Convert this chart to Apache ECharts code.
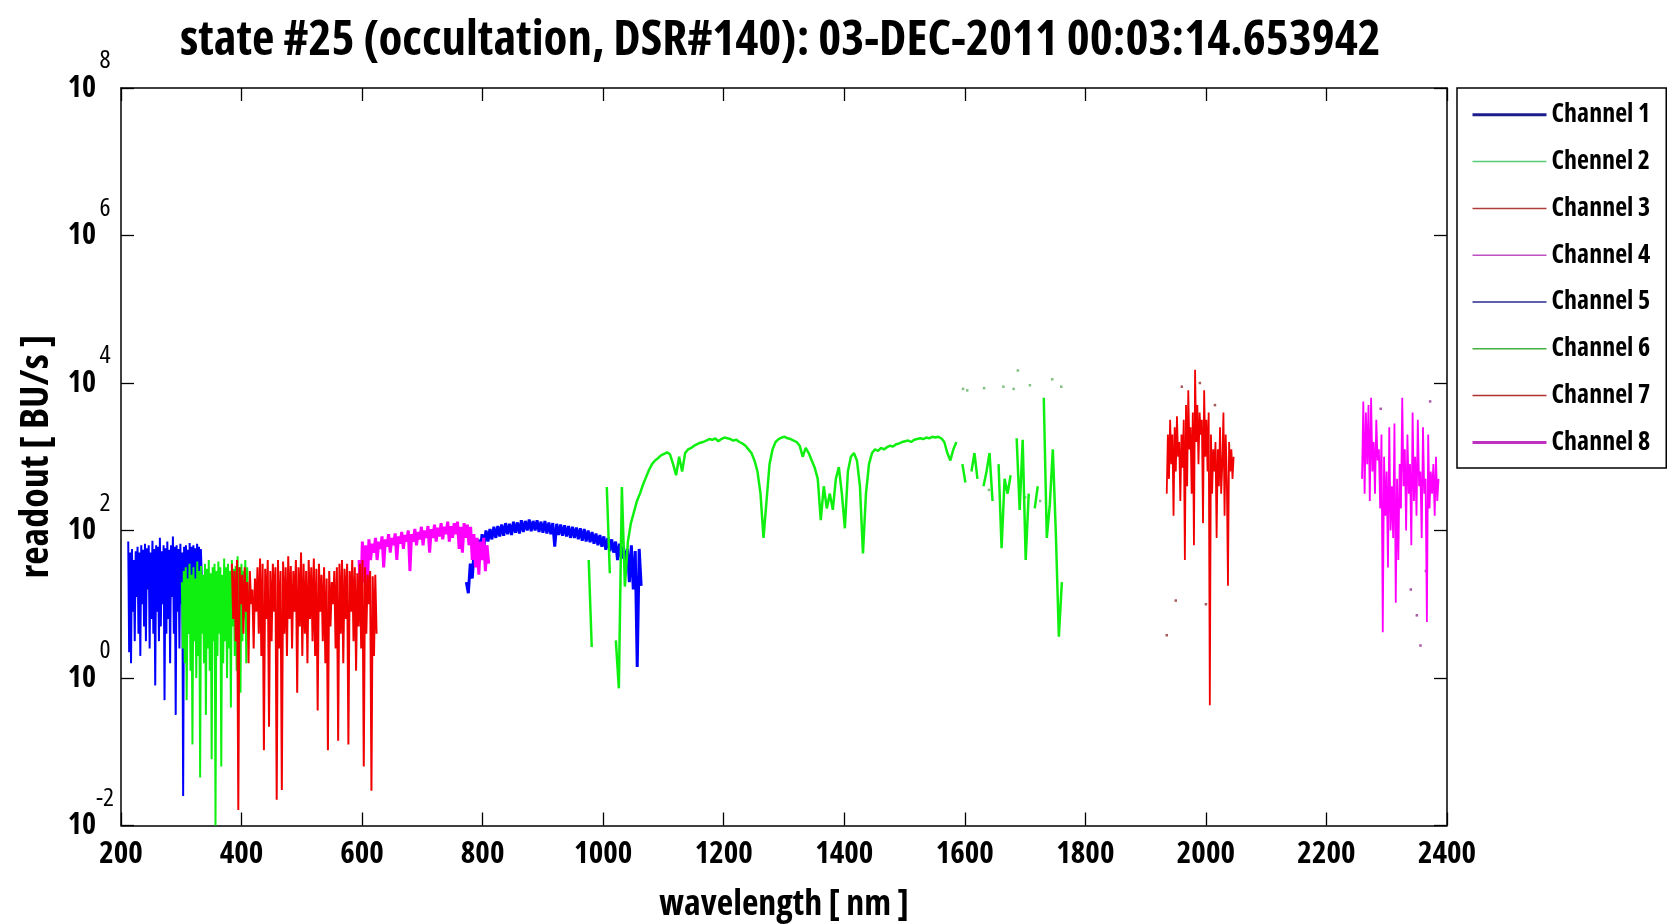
<!DOCTYPE html>
<html>
<head>
<meta charset="utf-8">
<title>state #25 spectrum</title>
<script src="https://cdn.jsdelivr.net/npm/echarts@6.0.0/dist/echarts.min.js"></script>
<style>
  html, body { margin: 0; padding: 0; background: #fff; }
  #chart { width: 1668px; height: 924px; }
</style>
</head>
<body>
<div id="chart"></div>
<script>
// readouts are given as log10(BU/s); null = no data (gap)
var FONT = "'Open Sans', 'Liberation Sans', sans-serif";
var BOLD = 'bold condensed';     // condensed width of Open Sans
var THIN = 'normal condensed';

var channelNames = ['Channel 1', 'Chennel 2', 'Channel 3', 'Channel 4',
                    'Channel 5', 'Channel 6', 'Channel 7', 'Channel 8'];
var plotColors = ['#0000ff', '#10f010', '#f00000', '#ff00ff',
                  '#0000ff', '#10f010', '#f00000', '#ff00ff'];
var legendColors = ['#1c1c8c', '#55cc77', '#b03c3c', '#c050c0',
                    '#2a2a90', '#40b040', '#b03030', '#c030c0'];
var legendWidths = [3, 1.5, 1.5, 1.5, 1.5, 1.5, 1.5, 3];

// wavelength range [start, end] in nm for each channel
var ch1Range = [212, 334];
var ch2Range = [301, 411];
var ch3Range = [384, 624];
var ch4Range = [595, 810];
var ch5Range = [773, 1063];
var ch6Range = [971, 1771];
var ch7Range = [1935, 2046];
var ch8Range = [2259, 2386];

var ch1 = [1.85,0.35,1.7,0.2,1.75,0.9,1.6,0.5,1.72,1.1,
  1.78,0.6,1.7,0.3,1.8,1.0,1.74,0.7,1.82,0.5,
  1.76,1.2,1.8,0.4,1.7,0.8,1.86,0.6,1.75,-0.1,
  1.8,0.9,1.78,0.5,1.9,0.7,1.72,1.0,1.8,-0.3,
  1.76,0.6,1.85,0.8,1.74,0.2,1.8,1.1,1.92,0.6,
  1.78,-0.5,1.8,0.9,1.75,0.4,1.82,1.0,1.7,-1.6,
  1.78,0.8,1.8,1.2,1.74,0.6,1.83,1.0,1.78,0.4,
  1.8,1.2,1.76,0.9,1.82,1.3,1.78,1.0,1.75,1.4];

var ch2 = [1.3,0.4,1.45,0.2,1.5,-0.3,1.35,0.6,1.55,0.1,
  1.4,-0.9,1.5,0.5,1.35,0.0,1.58,0.3,1.45,-1.35,
  1.52,0.6,1.4,0.2,1.55,-0.5,1.48,0.4,1.6,0.1,
  1.42,-1.1,1.5,0.5,1.55,-2.0,1.45,0.3,1.58,0.6,
  1.5,-1.2,1.4,0.2,1.62,0.5,1.5,0.0,1.55,0.4,
  1.45,-0.4,1.6,0.7,1.48,0.3,1.52,0.1,1.65,0.6,
  1.5,-0.2,1.55,0.5,1.45,0.8,1.6,0.2,1.5,0.9];

var ch3 = [1.55,0.8,1.45,0.5,1.6,-1.79,1.5,1.0,1.4,0.6,
  1.5,0.9,1.3,0.2,1.45,1.0,1.2,0.4,1.35,0.9,
  1.5,0.6,1.62,0.3,1.55,-0.98,1.48,0.8,1.6,-0.66,
  1.45,0.5,1.55,0.9,1.5,-1.65,1.6,0.4,1.45,-1.52,
  1.58,0.6,1.5,0.3,1.65,0.8,1.52,0.4,1.45,0.9,
  1.6,-0.2,1.5,0.7,1.7,0.3,1.55,0.6,1.45,0.2,
  1.6,0.8,1.5,0.5,1.62,0.3,1.48,-0.44,1.55,0.9,
  1.4,0.5,1.5,0.2,1.35,-0.98,1.45,0.7,1.3,1.0,
  1.45,0.4,1.5,-0.85,1.55,0.6,1.6,0.2,1.48,0.8,
  1.55,-0.9,1.45,0.9,1.6,0.5,1.5,0.1,1.42,0.7,
  1.55,0.4,1.6,-1.2,1.5,0.6,1.4,1.0,1.45,-1.53,
  1.38,0.3,1.4,0.6];

var ch4 = [1.6,1.0,1.85,1.3,1.8,1.2,1.88,1.6,1.82,1.7,
  1.9,1.6,1.85,1.75,1.92,1.5,1.88,1.78,1.95,1.7,
  1.9,1.8,1.96,1.6,1.92,1.82,1.98,1.75,1.94,1.85,
  2.0,1.45,1.95,1.85,2.02,1.8,1.98,1.88,2.05,1.8,
  2.0,1.9,2.06,1.7,2.02,1.9,2.08,1.85,2.04,1.92,
  2.1,1.88,2.05,1.95,2.12,1.85,2.06,1.9,2.1,1.95,
  2.12,1.75,2.05,1.7,2.1,1.9,2.08,1.8,2.05,1.6,
  1.95,1.5,1.9,1.4,1.85,1.6,1.9,1.45,1.8,1.55];

var ch5 = [1.3,1.15,1.55,1.35,1.75,1.55,1.88,1.7,1.95,1.8,
  2.0,1.85,2.02,1.88,2.05,1.9,2.06,1.92,2.08,1.93,
  2.1,1.95,2.09,1.94,2.12,1.97,2.11,1.96,2.14,1.98,
  2.13,2.0,2.15,1.99,2.13,2.0,2.14,1.98,2.12,1.97,
  2.13,1.96,2.11,1.95,2.1,1.78,2.09,1.94,2.08,1.93,
  2.07,1.92,2.06,1.9,2.05,1.9,2.04,1.88,2.03,1.86,
  2.02,1.85,2.0,1.84,1.98,1.82,1.96,1.8,1.94,1.78,
  1.92,1.74,1.9,1.72,1.88,1.7,1.85,1.6,1.82,1.62,
  1.78,1.55,1.75,1.3,1.8,1.2,1.72,0.15,1.75,1.25];

var ch6 = [null,1.6,0.42,null,null,null,null,2.59,1.42,null,
  0.51,-0.14,2.59,1.24,1.85,2.1,2.25,2.4,2.5,2.62,
  2.72,2.82,2.9,2.95,2.98,3.02,3.04,3.06,3.03,2.9,
  2.75,3.0,2.8,3.05,3.1,3.12,3.15,3.17,3.19,3.2,
  3.22,3.24,3.23,3.25,3.21,3.24,3.26,3.25,3.24,3.22,
  3.23,3.2,3.18,3.15,3.1,3.05,2.95,2.8,2.5,1.9,
  2.4,2.9,3.1,3.2,3.24,3.26,3.27,3.25,3.24,3.22,
  3.2,3.15,3.0,3.12,3.05,2.95,2.85,2.7,2.14,2.6,
  2.3,2.5,2.28,2.7,2.86,2.5,2.03,2.8,3.0,3.05,
  2.95,2.6,1.69,2.5,2.9,3.05,3.1,3.08,3.12,3.1,
  3.13,3.15,3.14,3.17,3.18,3.2,3.21,3.22,3.2,3.23,
  3.24,3.25,3.24,3.26,3.25,3.27,3.26,3.27,3.25,3.2,
  3.05,2.95,3.1,3.2,null,2.9,2.65,null,2.8,3.05,
  2.7,null,2.6,2.8,3.05,2.4,null,2.9,1.76,2.7,
  2.5,2.75,null,3.25,2.28,3.23,1.6,2.5,null,2.3,
  2.6,null,3.8,1.9,2.35,3.1,1.97,0.56,1.3,null,
  null];

var ch7 = [2.5,3.3,2.7,3.5,2.9,3.3,2.2,3.4,2.8,3.55,
  3.0,3.2,2.4,3.3,2.85,3.5,1.6,3.7,2.6,3.9,
  3.1,3.4,2.5,3.6,1.8,4.18,3.2,3.7,2.9,3.6,
  3.3,3.5,2.1,3.9,3.0,3.5,2.8,3.6,-0.37,3.3,
  2.5,3.1,2.8,3.2,1.9,3.1,2.6,3.4,2.5,2.9,
  3.6,2.2,3.3,2.7,1.25,3.2,2.8,3.1,2.7,3.0];

var ch8 = [2.7,3.75,2.5,3.6,2.9,3.7,2.4,3.8,2.8,3.2,
  2.5,3.5,2.95,3.1,2.3,3.3,0.62,3.0,2.2,2.8,
  1.5,3.4,2.0,2.6,1.9,3.45,1.02,2.7,1.6,2.9,
  2.3,3.8,2.6,3.1,2.0,3.3,2.5,2.9,1.8,3.6,
  2.4,3.0,2.2,3.5,2.6,2.8,1.9,3.4,2.5,2.7,
  0.76,3.3,2.3,2.8,2.5,2.9,2.2,3.0,2.4,2.7];

// isolated stray samples [nm, log10 readout]
var ch6Dots = [[1597,3.92],[1604,3.9],[1632,3.93],[1664,3.95],[1681,3.92],[1688,4.17],
  [1708,3.97],[1745,4.05],[1760,3.95],[1640,2.55],[1700,2.45],[1725,2.4]];
var ch7Dots = [[1935,0.58],[1950,1.05],[1960,3.95],[1990,4.0],[2000,1.0],[2015,3.7]];
var ch8Dots = [[2356,0.44],[2350,0.85],[2340,1.2],[2372,3.75],[2290,3.65],[2365,1.45]];

var xTicks = [200, 2400, 200];       // min, max, step
var yTicks = [0.01, 1e8];            // 10^-2 .. 10^8

function toPairs(range, logs) {
    var step = (range[1] - range[0]) / (logs.length - 1);
    return logs.map(function (v, i) {
        return [range[0] + i * step, v === null ? '-' : Math.pow(10, v)];
    });
}

function dotPairs(list) {
    return list.map(function (p) { return [p[0], Math.pow(10, p[1])]; });
}

// drawing order follows the overlaps in the picture
var channels = [
    {data: toPairs(ch1Range, ch1), idx: 0, width: 2},
    {data: toPairs(ch2Range, ch2), idx: 1, width: 2},
    {data: toPairs(ch5Range, ch5), idx: 4, width: 3},
    {data: toPairs(ch4Range, ch4), idx: 3, width: 3},
    {data: toPairs(ch3Range, ch3), idx: 2, width: 2},
    {data: toPairs(ch6Range, ch6), idx: 5, width: 2.5},
    {data: toPairs(ch7Range, ch7), idx: 6, width: 1.8},
    {data: toPairs(ch8Range, ch8), idx: 7, width: 1.8}
];
var dots = [
    {data: dotPairs(ch6Dots), idx: 5, color: '#60b060'},
    {data: dotPairs(ch7Dots), idx: 6, color: '#903030'},
    {data: dotPairs(ch8Dots), idx: 7, color: '#903090'}
];

var myChart = echarts.init(document.getElementById('chart'), null, {renderer: 'canvas'});

var axisLineStyle = {color: '#000', width: 1.5};
var tickStyle = {show: true, inside: true, length: 13, lineStyle: {color: '#000', width: 1.3}};

var lineSeries = channels.map(function (c) {
    return {
        name: channelNames[c.idx],
        type: 'line',
        xAxisIndex: 0,
        yAxisIndex: 0,
        data: c.data,
        symbol: 'none',
        showSymbol: false,
        connectNulls: false,
        clip: true,
        lineStyle: {color: plotColors[c.idx], width: c.width},
        itemStyle: {color: plotColors[c.idx]},
        emphasis: {disabled: true}
    };
});
var dotSeries = dots.map(function (d) {
    return {
        name: channelNames[d.idx],
        type: 'scatter',
        data: d.data,
        symbol: 'rect',
        symbolSize: 2.5,
        itemStyle: {color: d.color},
        emphasis: {disabled: true}
    };
});

var option = {
    backgroundColor: '#fff',
    animation: false,
    title: {
        text: 'state #25 (occultation, DSR#140): 03-DEC-2011 00:03:14.653942',
        left: 180,
        top: 17,
        padding: 0,
        textStyle: {fontFamily: FONT, fontSize: 49, fontWeight: BOLD, color: '#000'}
    },
    legend: {
        orient: 'vertical',
        left: 1457,
        top: 88,
        padding: [13.8, 16, 12.6, 14],
        itemWidth: 74,
        itemHeight: 24,
        itemGap: 20.8,
        borderColor: '#000',
        borderWidth: 1.5,
        backgroundColor: '#fff',
        selectedMode: false,
        itemStyle: {opacity: 0},
        textStyle: {fontFamily: FONT, fontSize: 26, fontWeight: BOLD, color: '#000', lineHeight: 24},
        data: channelNames.map(function (n, i) {
            return {
                name: n,
                itemStyle: {opacity: 0},
                lineStyle: {color: legendColors[i], width: legendWidths[i]}
            };
        })
    },
    grid: {left: 121, right: 221, top: 88, bottom: 98.5, outerBoundsMode: 'none', containLabel: false},
    xAxis: [{
        type: 'value',
        min: xTicks[0], max: xTicks[1], interval: xTicks[2],
        position: 'bottom',
        name: 'wavelength [ nm ]',
        nameLocation: 'middle',
        nameGap: 61,
        nameTextStyle: {fontFamily: FONT, fontSize: 36, fontWeight: BOLD, color: '#000'},
        axisLine: {show: true, lineStyle: axisLineStyle},
        axisTick: tickStyle,
        splitLine: {show: false},
        axisLabel: {
            margin: 13, showMinLabel: true, showMaxLabel: true,
            formatter: function (v) { return String(v); },
            fontFamily: FONT, fontSize: 31, fontWeight: BOLD, color: '#000'
        }
    }, {
        type: 'value',
        min: xTicks[0], max: xTicks[1], interval: xTicks[2],
        position: 'top',
        axisLine: {show: true, lineStyle: axisLineStyle},
        axisTick: tickStyle,
        splitLine: {show: false},
        axisLabel: {show: false}
    }],
    yAxis: [{
        type: 'log',
        logBase: 100,
        min: yTicks[0], max: yTicks[1],
        position: 'left',
        name: 'readout [ BU/s ]',
        nameLocation: 'middle',
        nameGap: 59,
        nameTextStyle: {fontFamily: FONT, fontSize: 40, fontWeight: BOLD, color: '#000'},
        axisLine: {show: true, lineStyle: axisLineStyle},
        axisTick: tickStyle,
        splitLine: {show: false},
        minorTick: {show: false},
        axisLabel: {
            margin: 8,
            showMinLabel: true, showMaxLabel: true,
            formatter: function (v) {
                return '{b|10}{e|' + Math.round(Math.log10(v)) + '}';
            },
            rich: {
                b: {fontFamily: FONT, fontSize: 30, fontWeight: BOLD, color: '#000'},
                e: {fontFamily: FONT, fontSize: 26, fontWeight: THIN, color: '#000', width: 16, align: 'left',
                    padding: [0, 0, 54, 1]}
            }
        }
    }, {
        type: 'log',
        logBase: 100,
        min: yTicks[0], max: yTicks[1],
        position: 'right',
        axisLine: {show: true, lineStyle: axisLineStyle},
        axisTick: tickStyle,
        splitLine: {show: false},
        axisLabel: {show: false}
    }],
    series: lineSeries.concat(dotSeries)
};

myChart.setOption(option);
</script>
</body>
</html>
